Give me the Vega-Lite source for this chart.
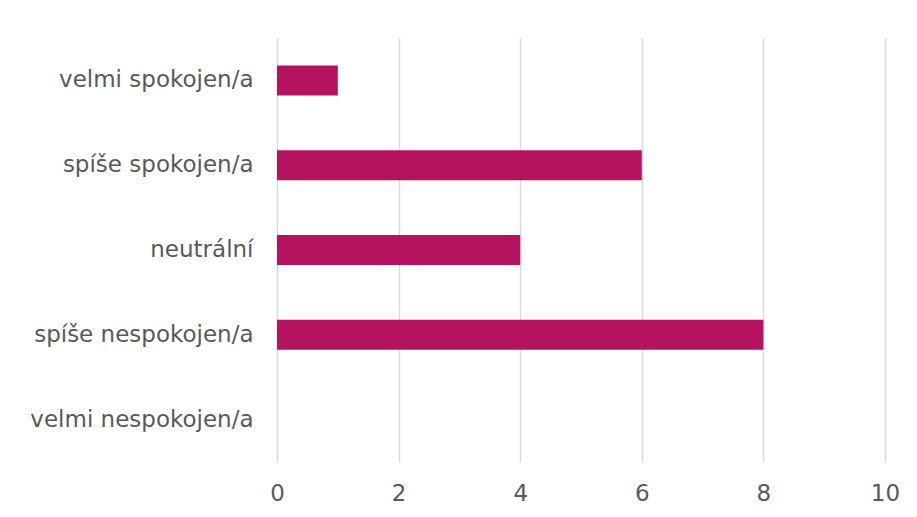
{
  "$schema": "https://vega.github.io/schema/vega-lite/v6.json",
  "autosize": "none",
  "width": 608,
  "height": 424,
  "padding": {"left": 277, "top": 38, "right": 32, "bottom": 55},
  "background": "white",
  "data": {
    "values": [
      {"kategorie": "velmi spokojen/a", "pocet": 1},
      {"kategorie": "spíše spokojen/a", "pocet": 6},
      {"kategorie": "neutrální", "pocet": 4},
      {"kategorie": "spíše nespokojen/a", "pocet": 8},
      {"kategorie": "velmi nespokojen/a", "pocet": 0}
    ]
  },
  "mark": {"type": "bar", "color": "#B5135F"},
  "encoding": {
    "y": {
      "field": "kategorie",
      "type": "nominal",
      "sort": null,
      "scale": {"paddingInner": 0.646, "paddingOuter": 0.323},
      "axis": {
        "title": null,
        "domain": false,
        "ticks": false,
        "grid": false,
        "labelFont": "DejaVu Sans",
        "labelFontSize": 23,
        "labelColor": "#595959",
        "labelPadding": 24,
        "labelLimit": 300
      }
    },
    "x": {
      "field": "pocet",
      "type": "quantitative",
      "scale": {"domain": [0, 10], "nice": false},
      "axis": {
        "title": null,
        "values": [0, 2, 4, 6, 8, 10],
        "domain": false,
        "ticks": false,
        "grid": true,
        "gridColor": "#d9d9d9",
        "gridWidth": 1.5,
        "labelFont": "DejaVu Sans",
        "labelFontSize": 23,
        "labelColor": "#595959",
        "labelPadding": 20,
        "labelFlush": false
      }
    }
  },
  "config": {"view": {"stroke": null}}
}
